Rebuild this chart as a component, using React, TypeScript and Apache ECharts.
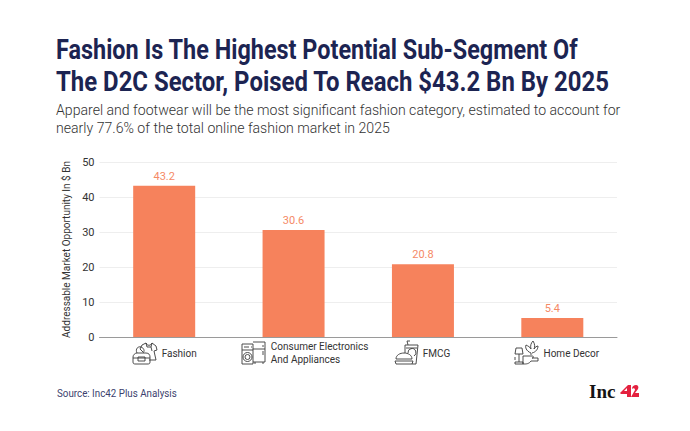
import React, { useEffect, useRef } from "react";
import * as echarts from "echarts";

const titleLines = [
  "Fashion Is The Highest Potential Sub-Segment Of",
  "The D2C Sector, Poised To Reach $43.2 Bn By 2025",
];
const subtitleLines = [
  "Apparel and footwear will be the most significant fashion category, estimated to account for",
  "nearly 77.6% of the total online fashion market in 2025",
];
const sourceText = "Source: Inc42 Plus Analysis";
const categories = ["Fashion", "Consumer Electronics\nAnd Appliances", "FMCG", "Home Decor"];
const values = [43.2, 30.6, 20.8, 5.4];
const yAxisName = "Addressable Market Opportunity In $ Bn";

const ICONS: Record<string, string> = {
  iconFashion:
    "M133 362 L133 357 C133 355 135 353 137 353 L146 353 C149 353 150 355 150 357 L150 362 C150 364 149 364 147 364 L136 364 C134 364 133 364 133 362 Z M133 358 L150 358 M138 357 H145 V361 H138 Z M137 353 C135 349 138 346 141 347 C144 348 145 351 143 353 M146 343 L142 345 L140 349 L143 352 M146 343 C147 346 151 346 152 343 L156 346 L157 350 L154 351 L156 360 L149 360 M146 343 L147 347 M152 343 L151 347 M147 347 H151 M151 347 L152 351",
  iconAppliances:
    "M242 344 H253 V364 H242 Z M242 350 H253 M244 347 H249 M251 347 H252 M247.5 357 m-4.5 0 a4.5 4.5 0 1 0 9 0 a4.5 4.5 0 1 0 -9 0 M247.5 357 m-2.5 0 a2.5 2.5 0 1 0 5 0 a2.5 2.5 0 1 0 -5 0 M253 342 H265 V362 H253 M253 349 H265 M263 345 V347 M263 351 V355 M255 362 V364 M263 362 V364",
  iconFmcg:
    "M396 359 C396 355 400 353 404 353 C408 353 412 355 412 359 Z M395 361 H413 M396 364 H412 L413 361 M395 361 L396 364 M405 353 L405 345 H418 L416 364 H412 M408 345 L407 341 L410 341 M406 348 H417 M412 349 m-4 4 a4 4 0 1 1 6 3",
  iconHome:
    "M516 348 H522 L523 354 H515 Z M519 354 V362 M515 364 H523 V362 H515 Z M515 357 V360 M531 353 C526 351 525 347 526 345 C528 346 530 347 531 349 C530 346 531 343 533 341 C535 344 535 347 534 349 C535 347 537 346 538 346 C538 349 536 352 532 353 M531 353 V355 M523 356 H532 C534 356 534 358 532 358 H538 V361 H531 C529 364 526 364 524 364 H523 Z",
};
const LOGO_RED =
  "M620 393 L628 385 H631 V397 H627 V394 H621 Z M624 391 H627 V388 Z M632 389 C632 386 634 385 636 385 C638 385 639 387 638 389 L635 393 H639 V397 H631 L635 390 C635 388 633 388 632 389 Z";

Object.keys(ICONS).forEach((k) =>
  echarts.graphic.registerShape(k, echarts.graphic.extendPath(ICONS[k], {}) as any)
);
echarts.graphic.registerShape("logoRed", echarts.graphic.extendPath(LOGO_RED, {}) as any);

const LABEL_PAD = [30, 52, 27, 38];

export default function App() {
  const ref = useRef<HTMLDivElement>(null);
  useEffect(() => {
    const chart = echarts.init(ref.current!, undefined, { renderer: "svg" });
    const rich: Record<string, any> = {};
    LABEL_PAD.forEach((p, i) => {
      rich["c" + i] = {
        fontFamily: "Roboto",
        fontSize: 10,
        lineHeight: 13,
        color: "#333333",
        align: "left",
        padding: [0, 0, 0, p],
      };
    });
    const iconStyle = { fill: "none", stroke: "#3a3a3a", lineWidth: 0.9 };
    chart.setOption({
      animation: false,
      backgroundColor: "#ffffff",
      grid: { left: 99.5, right: 73, top: 162, bottom: 94, containLabel: false },
      xAxis: {
        type: "category",
        data: categories,
        axisTick: { show: false },
        axisLine: { lineStyle: { color: "#9a9a9a", width: 1 } },
        axisLabel: {
          interval: 0,
          margin: 16,
          verticalAlign: "middle",
          formatter: (v: string) => {
            const i = categories.indexOf(v);
            return v
              .split("\n")
              .map((l) => `{c${i}|${l}}`)
              .join("\n");
          },
          rich,
        },
      },
      yAxis: {
        type: "value",
        min: 0,
        max: 50,
        interval: 10,
        name: yAxisName,
        nameLocation: "middle",
        nameGap: 19,
        nameTextStyle: { fontFamily: "Roboto", fontSize: 10, color: "#333333" },
        axisLine: { show: false },
        axisTick: { show: false },
        axisLabel: { fontFamily: "Roboto", fontSize: 11, color: "#333333", margin: 5 },
        splitLine: { lineStyle: { color: "#eeeeee", width: 1 } },
      },
      series: [
        {
          type: "bar",
          data: values,
          barWidth: 62,
          itemStyle: { color: "#F6825C" },
          label: {
            show: true,
            position: "top",
            distance: 4,
            fontFamily: "Roboto",
            fontSize: 11,
            color: "#F58A66",
            formatter: (p: any) => p.value.toFixed(1),
          },
        },
      ],
      graphic: [
        ...titleLines.map((t, i) => ({
          type: "text",
          x: 56,
          y: i === 0 ? 49 : 81.5,
          scaleX: i === 0 ? 0.837 : 0.855,
          style: {
            text: t,
            fontFamily: "Roboto",
            fontWeight: 700,
            fontSize: 28,
            fill: "#1C2452",
            verticalAlign: "middle",
          },
        })),
        ...subtitleLines.map((t, i) => ({
          type: "text",
          x: 56,
          y: i === 0 ? 110 : 128,
          scaleX: 1.008,
          style: {
            text: t,
            fontFamily: "Roboto",
            fontWeight: 300,
            fontSize: 14,
            fill: "#333333",
            verticalAlign: "middle",
          },
        })),
        {
          type: "text",
          x: 57,
          y: 393,
          scaleX: 0.89,
          style: {
            text: sourceText,
            fontFamily: "Roboto",
            fontSize: 11,
            fill: "#3C3F6E",
            verticalAlign: "middle",
          },
        },
        ...Object.keys(ICONS).map((k) => ({ type: k, x: 0, y: 0, style: iconStyle })),
        {
          type: "text",
          x: 589,
          y: 391.5,
          style: {
            text: "Inc",
            fontFamily: "Liberation Serif",
            fontWeight: 700,
            fontSize: 19,
            fill: "#141414",
            verticalAlign: "middle",
          },
        },
        { type: "logoRed", x: 0, y: 0, style: { fill: "#E4213F" } },
      ],
    });
    return () => chart.dispose();
  }, []);
  return (
    <div
      ref={ref}
      style={{ position: "absolute", left: 0, top: 0, width: 690, height: 431, background: "#fff" }}
    />
  );
}
